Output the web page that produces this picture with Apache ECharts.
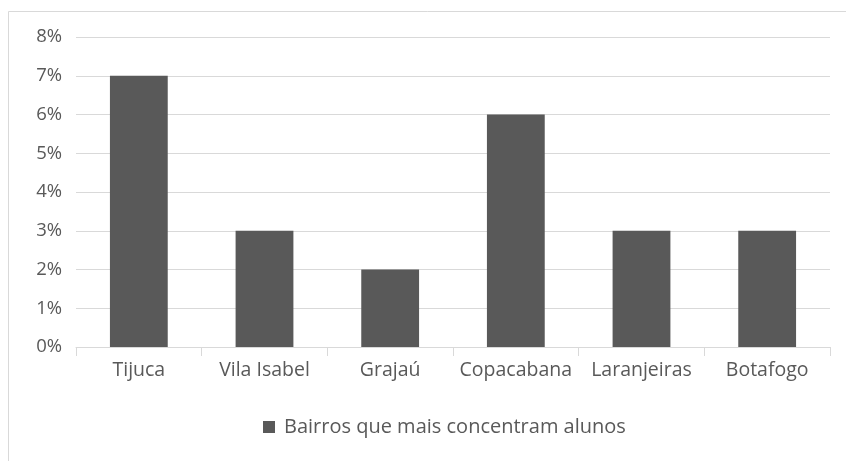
<!DOCTYPE html>
<html>
<head>
<meta charset="utf-8">
<script src="https://cdn.jsdelivr.net/npm/echarts@6/dist/echarts.min.js"></script>
<style>
  html, body { margin: 0; padding: 0; background: #ffffff; }
  #chart { width: 846px; height: 461px; }
</style>
</head>
<body>
<div id="chart"></div>
<script>
// Neighbourhoods with the largest share of students
const bairros = ['Tijuca', 'Vila Isabel', 'Grajaú', 'Copacabana', 'Laranjeiras', 'Botafogo'];
const percentuais = [7, 3, 2, 6, 3, 3];
const serieNome = 'Bairros que mais concentram alunos';
const eixoY = { min: 0, max: 8, interval: 1 };

const fonte = '"Open Sans", sans-serif';
const cinzaTexto = '#595959';
const cinzaLinha = '#d9d9d9';

const chart = echarts.init(document.getElementById('chart'), null, { renderer: 'canvas' });
chart.setOption({
  animation: false,
  backgroundColor: '#ffffff',
  graphic: [{
    type: 'rect',
    shape: { x: 8.5, y: 11.5, width: 900, height: 500 },
    style: { fill: 'none', stroke: cinzaLinha, lineWidth: 1 },
    silent: true
  }],
  grid: { left: 76, right: 16, top: 37, bottom: 114 },
  xAxis: {
    type: 'category',
    data: bairros,
    axisLine: { lineStyle: { color: cinzaLinha, width: 1 } },
    axisTick: { show: true, length: 9, lineStyle: { color: cinzaLinha } },
    axisLabel: { color: cinzaTexto, fontFamily: fonte, fontSize: 19.5, margin: 13, interval: 0, hideOverlap: false }
  },
  yAxis: {
    type: 'value',
    min: eixoY.min,
    max: eixoY.max,
    interval: eixoY.interval,
    axisLine: { show: false },
    axisTick: { show: false },
    splitLine: { lineStyle: { color: cinzaLinha, width: 1 } },
    axisLabel: { color: cinzaTexto, fontFamily: fonte, fontSize: 18.5, margin: 14, formatter: '{value}%' }
  },
  legend: {
    bottom: 19,
    left: 258,
    itemWidth: 12,
    itemHeight: 12,
    itemGap: 10,
    icon: 'rect',
    textStyle: { color: cinzaTexto, fontFamily: fonte, fontSize: 20, padding: [0, 0, 0, 4] },
    data: [serieNome]
  },
  series: [{
    name: serieNome,
    type: 'bar',
    data: percentuais,
    barCategoryGap: '54%',
    itemStyle: { color: '#595959' }
  }]
});
</script>
</body>
</html>
